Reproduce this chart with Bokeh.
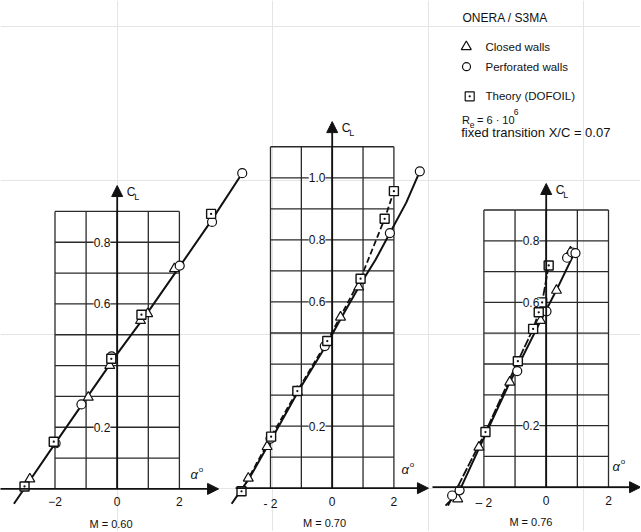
from bokeh.plotting import figure
from bokeh.models import Range1d, Arrow, NormalHead
from bokeh.core.properties import value
from bokeh.embed import file_html
from bokeh.resources import INLINE

# ---------------- data ----------------
mach_labels = ["M = 0.60", "M = 0.70", "M = 0.76"]

# M = 0.60
m60_closed_alpha = [-2.81, -0.93, -0.24, 0.75, 0.98, 1.84]
m60_closed_cl = [0.032, 0.297, 0.400, 0.546, 0.568, 0.714]
m60_perf_alpha = [-1.98, -1.15, -0.18, 2.01, 3.05, 4.02]
m60_perf_cl = [0.148, 0.274, 0.430, 0.724, 0.866, 1.024]
m60_theory_alpha = [-2.98, -2.04, -0.19, 0.78, 3.02]
m60_theory_cl = [0.008, 0.153, 0.422, 0.565, 0.892]
m60_curve_alpha = [-3.32, -2.0, -1.0, 0.0, 1.0, 2.0, 3.0, 4.02]
m60_curve_cl = [-0.048, 0.147, 0.293, 0.438, 0.575, 0.720, 0.866, 1.024]

# M = 0.70
m70_closed_alpha = [-2.72, -2.11, -1.13, 0.27, 0.86]
m70_closed_cl = [0.032, 0.134, 0.311, 0.551, 0.648]
m70_perf_alpha = [-2.0, -0.24, 1.87, 2.84]
m70_perf_cl = [0.160, 0.458, 0.822, 1.021]
m70_theory_alpha = [-2.94, -1.98, -1.13, -0.16, 0.92, 1.70, 2.00]
m70_theory_cl = [-0.010, 0.166, 0.313, 0.474, 0.675, 0.868, 0.957]
m70_curve_alpha = [-3.26, -2.70, -2.0, -1.1, -0.2, 0.3, 0.9, 1.4, 1.87, 2.4, 2.84]
m70_curve_cl = [-0.050, 0.030, 0.152, 0.312, 0.460, 0.550, 0.655, 0.735, 0.822, 0.920, 1.021]
m70_theory_curve_alpha = [-2.94, -1.98, -1.13, -0.16, 0.92, 1.70, 2.00]
m70_theory_curve_cl = [-0.010, 0.166, 0.313, 0.474, 0.675, 0.868, 0.957]

# M = 0.76
m76_closed_alpha = [-2.84, -2.16, -1.17, -0.18, 0.33, 0.78]
m76_closed_cl = [-0.038, 0.130, 0.341, 0.541, 0.639, 0.763]
m76_perf_alpha = [-3.02, -2.78, -0.93, 0.01, 0.67, 0.83, 0.94]
m76_perf_cl = [-0.027, -0.010, 0.377, 0.571, 0.745, 0.762, 0.760]
m76_theory_alpha = [-1.95, -0.91, -0.42, -0.24, -0.13, 0.08]
m76_theory_cl = [0.179, 0.409, 0.514, 0.568, 0.600, 0.720]
m76_curve_alpha = [-3.23, -2.80, -2.16, -1.17, -0.18, 0.33, 0.94]
m76_curve_cl = [-0.060, -0.015, 0.125, 0.340, 0.540, 0.640, 0.768]
m76_theory_curve_alpha = [-3.15, -1.95, -0.91, -0.42, -0.24, -0.13, 0.08]
m76_theory_curve_cl = [-0.060, 0.179, 0.409, 0.514, 0.568, 0.600, 0.720]

# axes / ticks
grid_alpha = [-2, -1, 0, 1, 2]
grid_top = [0.9, 1.1, 0.9]
ytick_values = [[0.2, 0.6, 0.8], [0.2, 0.6, 0.8, 1.0], [0.2, 0.6, 0.8]]
ytick_labels = [["0.2", "0.6", "0.8"], ["0.2", "0.6", "0.8", "1.0"], ["0.2", "0.6", "0.8"]]
xtick_values = [-2, 0, 2]
xtick_labels = [["\u22122", "0", "2"], ["- 2", "0", "2"], ["\u2013 2", "0", "2"]]

legend_labels = ["Closed walls", "Perforated walls", "Theory (DOFOIL)"]

# ---------------- layout ----------------
W, H = 640, 531
MARGIN = 0
FONT = value("Liberation Sans")

# pixel calibration of each panel (origin in picture pixels, px per degree, px per unit CL)
calib = [
    dict(name="default", ox=116.7, oy=488.4, sx=31.1, sy=308.3),
    dict(name="m70", ox=331.7, oy=487.7, sx=30.85, sy=310.4),
    dict(name="m76", ox=545.7, oy=486.7, sx=31.15, sy=308.0),
]


def make_ranges(c):
    fx = c["ox"] - MARGIN
    fy = (MARGIN + H) - c["oy"]
    return (Range1d(-fx / c["sx"], (W - fx) / c["sx"]),
            Range1d(-fy / c["sy"], (H - fy) / c["sy"]))


ranges = [make_ranges(c) for c in calib]

p = figure(width=W, height=H, x_range=ranges[0][0], y_range=ranges[0][1],
           x_axis_location=None, y_axis_location=None,
           output_backend="svg", toolbar_location=None, min_border=0,
           outline_line_color=None, background_fill_color="white",
           border_fill_color="white")
p.extra_x_ranges = {"m70": ranges[1][0], "m76": ranges[2][0]}
p.extra_y_ranges = {"m70": ranges[1][1], "m76": ranges[2][1]}

panel_data = [
    dict(closed=(m60_closed_alpha, m60_closed_cl), perf=(m60_perf_alpha, m60_perf_cl),
         theory=(m60_theory_alpha, m60_theory_cl), curve=(m60_curve_alpha, m60_curve_cl),
         tcurve=None, tdash=None),
    dict(closed=(m70_closed_alpha, m70_closed_cl), perf=(m70_perf_alpha, m70_perf_cl),
         theory=(m70_theory_alpha, m70_theory_cl), curve=(m70_curve_alpha, m70_curve_cl),
         tcurve=(m70_theory_curve_alpha, m70_theory_curve_cl), tdash="6 3"),
    dict(closed=(m76_closed_alpha, m76_closed_cl), perf=(m76_perf_alpha, m76_perf_cl),
         theory=(m76_theory_alpha, m76_theory_cl), curve=(m76_curve_alpha, m76_curve_cl),
         tcurve=(m76_theory_curve_alpha, m76_theory_curve_cl), tdash="9 2"),
]

# decoration positions (data units of each panel)
yaxis_tip = [0.984, 1.181, 0.986]
xaxis_ends = [(-3.8, 3.26), (-3.13, 3.12), (-3.65, 3.03)]
alpha_label_pos = [(2.36, 0.047), (2.25, 0.06), (2.13, 0.067)]
mach_center = [-0.2, -0.25, -0.49]

INK = "#111111"

for i, c in enumerate(calib):
    rn = dict(x_range_name=c["name"], y_range_name=c["name"])
    top = grid_top[i]
    # grid: vertical lines
    xs = [[a, a] for a in grid_alpha]
    ys = [[0, top] for a in grid_alpha]
    # horizontal lines
    nrows = int(round(top / 0.1))
    for k in range(1, nrows + 1):
        xs.append([grid_alpha[0], grid_alpha[-1]])
        ys.append([k * 0.1, k * 0.1])
    p.multi_line(xs, ys, line_color="#2a2a2a", line_width=1.3, **rn)

    # axes with arrow heads
    x0, x1 = xaxis_ends[i]
    p.add_layout(Arrow(end=NormalHead(size=11, fill_color=INK, line_color=INK),
                       x_start=x0, y_start=0, x_end=x1, y_end=0,
                       line_color=INK, line_width=1.8, **rn))
    p.add_layout(Arrow(end=NormalHead(size=11, fill_color=INK, line_color=INK),
                       x_start=0, y_start=0, x_end=0, y_end=yaxis_tip[i],
                       line_color=INK, line_width=1.8, **rn))

    d = panel_data[i]
    # faired curves
    if d["tcurve"] is not None:
        p.line(d["tcurve"][0], d["tcurve"][1], line_color=INK, line_width=1.8,
               line_dash=d["tdash"], **rn)
    p.line(d["curve"][0], d["curve"][1], line_color=INK, line_width=2.0, **rn)

    # markers
    p.scatter(d["closed"][0], d["closed"][1], marker="triangle", size=10,
              fill_color="white", line_color=INK, line_width=1.2, **rn)
    p.scatter(d["perf"][0], d["perf"][1], marker="circle", size=9,
              fill_color="white", line_color=INK, line_width=1.2, **rn)
    p.scatter(d["theory"][0], d["theory"][1], marker="square_dot", size=9,
              fill_color="white", line_color=INK, line_width=1.4, **rn)

    # y tick labels
    yv = ytick_values[i]
    p.text([-0.22] * len(yv), yv, text=ytick_labels[i], text_font=FONT,
           text_font_size="12px", text_align="right", text_baseline="middle",
           text_color=INK, background_fill_color="white", **rn)
    # x tick labels
    p.text(xtick_values, [-0.027] * len(xtick_values), text=xtick_labels[i],
           text_font=FONT, text_font_size="12px", text_align="center",
           text_baseline="top", text_color=INK, **rn)
    # Mach label
    p.text([mach_center[i]], [-0.093], text=[mach_labels[i]], text_font=FONT,
           text_font_size="11px", text_align="center", text_baseline="top",
           text_color=INK, **rn)
    # C_L label
    tip = yaxis_tip[i]
    p.text([0.31], [tip - 0.022], text=["C"], text_font=FONT, text_font_size="12px",
           text_align="left", text_baseline="middle", text_color=INK, **rn)
    p.text([0.55], [tip - 0.036], text=["L"], text_font=FONT, text_font_size="9px",
           text_align="left", text_baseline="middle", text_color=INK, **rn)
    # alpha label
    ax, ay = alpha_label_pos[i]
    p.text([ax], [ay], text=["\u03b1"], text_font=FONT, text_font_size="13px",
           text_font_style="italic", text_align="left", text_baseline="middle",
           text_color=INK, **rn)
    p.text([ax + 0.26], [ay + 0.016], text=["o"], text_font=FONT, text_font_size="8px",
           text_align="left", text_baseline="middle", text_color=INK, **rn)

# ---------------- legend block (top right, in panel-3 units) ----------------
c3 = calib[2]


def to76(X, Y):
    return (X - c3["ox"]) / c3["sx"], (c3["oy"] - Y) / c3["sy"]


rn3 = dict(x_range_name="m76", y_range_name="m76")


def put(X, Y, s, size, **kw):
    a, b = to76(X, Y)
    p.text([a], [b], text=[s], text_font=FONT, text_font_size=size,
           text_align=kw.get("align", "left"), text_baseline="middle",
           text_color=INK, **rn3)


put(462, 17.5, "ONERA / S3MA", "12px")
mk = [("triangle", 465.8, 46.2, 10), ("circle", 466.0, 66.2, 8), ("square_dot", 469.2, 95.8, 9)]
ly = [46.3, 66.3, 95.5]
lsize = ["11.5px", "11.5px", "11.5px"]
for (m, X, Y, s), yy, lab, fs in zip(mk, ly, legend_labels, lsize):
    a, b = to76(X, Y)
    p.scatter([a], [b], marker=m, size=s, fill_color="white", line_color=INK,
              line_width=1.2, **rn3)
    put(485, yy, lab, fs)

put(461.5, 119.5, "R", "11px")
put(469.3, 124.0, "e", "8.5px")
put(476.5, 119.5, "= 6 \u00b7 10", "11px")
put(513.3, 111.8, "6", "8.5px")
put(460.7, 132.0, "fixed transition X/C = 0.07", "13px")

open("out.html", "w").write(file_html(p, INLINE))
